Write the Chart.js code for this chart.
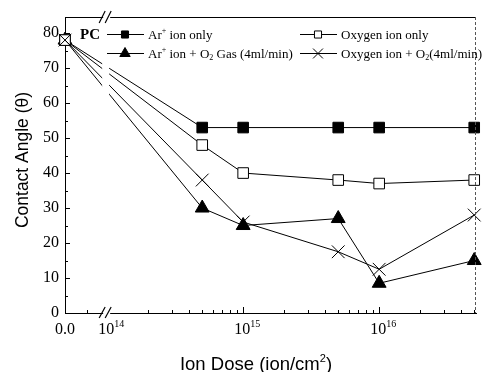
<!DOCTYPE html>
<html>
<head>
<meta charset="utf-8">
<script src="https://cdn.jsdelivr.net/npm/chart.js@4/dist/chart.umd.min.js"></script>
<style>
html,body{margin:0;padding:0;background:#fff;}
#wrap{width:486px;height:372px;position:relative;}
</style>
</head>
<body>
<div id="wrap"><canvas id="c" width="486" height="372"></canvas></div>
<script>
// ---- data ----
const doses = [0, 5e14, 1e15, 5e15, 1e16, 5e16];
const arOnly = [78, 53, 53, 53, 53, 53];
const oxOnly = [78, 48, 40, 38, 37, 38];
const arO2 = [78, 30, 25, 27, 8.5, 15];
const oxO2 = [78, 38, 26, 17.5, 12.5, 28];
const seriesNames = ['Ar⁺ ion only', 'Oxygen ion only', 'Ar⁺ ion + O₂ Gas (4ml/min)', 'Oxygen ion + O₂(4ml/min)'];
const xTickDoses = [0, 1e14, 1e15, 1e16];
const xTickLabels = ['0.0', '10¹⁴', '10¹⁵', '10¹⁶'];
const yTickValues = [0, 10, 20, 30, 40, 50, 60, 70, 80];
const xTitle = 'Ion Dose (ion/cm²)';
const yTitle = 'Contact Angle (θ)';
const sampleLabel = 'PC';

// broken axis: 0.0 then log decades starting at 1e14
const BREAK_OFF = 0.31;
const X_MAX = 3.022;
function T(d){ return d === 0 ? 0 : BREAK_OFF + Math.log10(d) - 14; }

const SERIF = "'Liberation Serif','Times New Roman',serif";
const SANS = "'Liberation Sans',Arial,sans-serif";

function pts(vals){ return doses.map((d,i)=>({x:T(d), y:vals[i]})); }

const SUP = {'⁺':'+','¹':'1','²':'2','⁴':'4','⁵':'5','⁶':'6'};
const SUB = {'₂':'2'};
function drawRich(ctx, str, x, y, size, family, weight, align){
  weight = weight || 'normal';
  const parts = [];
  for (const ch of str){
    let mode = 'n', c = ch;
    if (SUP[ch]) { mode='sup'; c=SUP[ch]; }
    else if (SUB[ch]) { mode='sub'; c=SUB[ch]; }
    const last = parts[parts.length-1];
    if (last && last.mode===mode) last.t += c; else parts.push({t:c, mode});
  }
  const small = Math.round(size*0.62);
  let total = 0;
  parts.forEach(p=>{
    ctx.font = weight+' '+(p.mode==='n'?size:small)+'px '+family;
    p.w = ctx.measureText(p.t).width; total += p.w;
  });
  let cx = align==='center' ? x - total/2 : x;
  ctx.textBaseline = 'alphabetic';
  ctx.textAlign = 'left';
  parts.forEach(p=>{
    ctx.font = weight+' '+(p.mode==='n'?size:small)+'px '+family;
    let dy = 0;
    if (p.mode==='sup') dy = -size*0.42;
    if (p.mode==='sub') dy = size*0.22;
    ctx.fillText(p.t, cx, y+dy);
    cx += p.w;
  });
}

const deco = {
  id:'deco',
  afterDatasetsDraw(chart){
    const ctx = chart.ctx;
    const xs = chart.scales.x;
    const bx = xs.getPixelForValue(T(1e14));
    ctx.save();
    ctx.fillStyle = '#fff';
    ctx.fillRect(bx-5, 58, 7, 45);
    ctx.restore();
  },
  afterDraw(chart){
    const ctx = chart.ctx;
    const xs = chart.scales.x, ys = chart.scales.y;
    const a = chart.chartArea;
    ctx.save();
    ctx.strokeStyle = '#000'; ctx.fillStyle = '#000'; ctx.lineWidth = 1;
    // y ticks (inward)
    for (let v=0; v<=80; v+=5){
      const py = Math.round(ys.getPixelForValue(v))+0.5;
      const len = v%10===0 ? 5 : 3;
      ctx.beginPath(); ctx.moveTo(a.left, py); ctx.lineTo(a.left+len, py); ctx.stroke();
    }
    // x ticks (inward)
    const xt = [{t:0.165, len:3}];
    for (let dec=14; dec<=16; dec++){
      for (let m=1; m<=9; m++){
        const d = m*Math.pow(10,dec);
        const t = T(d);
        if (t > X_MAX-0.005) continue;
        if (m===1 && dec===14) continue;
        xt.push({t, len: m===1 ? 6 : 3});
      }
    }
    xt.forEach(o=>{
      const px = Math.round(xs.getPixelForValue(o.t))+0.5;
      ctx.beginPath(); ctx.moveTo(px, a.bottom); ctx.lineTo(px, a.bottom-o.len); ctx.stroke();
    });
    // x tick labels
    ctx.fillStyle = '#000';
    xTickDoses.forEach((d,i)=>{
      const px = xs.getPixelForValue(T(d)) + (i===0?0:4);
      drawRich(ctx, xTickLabels[i], px, 334, 16, SERIF, 'normal', 'center');
    });
    // top border
    const bx = xs.getPixelForValue(T(1e14));
    ctx.beginPath();
    ctx.moveTo(a.left, a.top+0.5); ctx.lineTo(bx-4, a.top+0.5);
    ctx.moveTo(bx+3, a.top+0.5); ctx.lineTo(a.right, a.top+0.5);
    ctx.stroke();
    // right border (dotted)
    ctx.save();
    ctx.setLineDash([3,2]);
    ctx.strokeStyle = '#555';
    ctx.beginPath(); ctx.moveTo(a.right-0.5, a.top); ctx.lineTo(a.right-0.5, a.bottom); ctx.stroke();
    ctx.restore();
    // bottom break gap
    ctx.fillStyle = '#fff';
    ctx.fillRect(bx-4, a.bottom-2, 7, 4);
    ctx.fillStyle = '#000';
    // break slashes
    ctx.lineWidth = 1.2;
    [[-8,-1],[-2,5]].forEach(([x0])=>{
      ctx.beginPath(); ctx.moveTo(bx+x0, a.bottom+5); ctx.lineTo(bx+x0+6, a.bottom-6); ctx.stroke();
      ctx.beginPath(); ctx.moveTo(bx+x0, a.top+6); ctx.lineTo(bx+x0+6, a.top-6); ctx.stroke();
    });
    ctx.lineWidth = 1;
    // legend
    ctx.font = 'bold 15px '+SERIF;
    ctx.textBaseline = 'alphabetic'; ctx.textAlign = 'left';
    ctx.fillText(sampleLabel, 80, 39);
    const ds = chart.data.datasets;
    const slots = [[107,34],[300,34],[107,53],[300,53]];
    const legendR = [5, 5, 6, 7];
    ds.forEach((d,i)=>{
      const [lx, ly] = slots[i];
      ctx.strokeStyle = '#000'; ctx.lineWidth = 1;
      ctx.beginPath(); ctx.moveTo(lx, ly+0.5); ctx.lineTo(lx+37, ly+0.5); ctx.stroke();
      ctx.fillStyle = d.pointBackgroundColor;
      Chart.helpers.drawPoint(ctx, {pointStyle:d.pointStyle, radius:legendR[i], rotation:0, borderWidth:1}, lx+18, ly+0.5);
      ctx.fillStyle = '#000';
      drawRich(ctx, d.label, lx+41, ly+4.5, 13, SERIF, 'normal', 'left');
    });
    // axis titles
    ctx.fillStyle = '#000';
    drawRich(ctx, xTitle, 256, 370, 18.5, SANS, 'normal', 'center');
    ctx.save();
    ctx.translate(28, 160);
    ctx.rotate(-Math.PI/2);
    ctx.font = '17.5px '+SANS;
    ctx.textAlign = 'center';
    ctx.fillText(yTitle, 0, 0);
    ctx.restore();
    ctx.restore();
  }
};

const common = {borderColor:'#000', borderWidth:1, pointBorderColor:'#000', pointBorderWidth:1, tension:0, clip:false, showLine:true};

new Chart(document.getElementById('c'), {
  type:'scatter',
  data:{
    datasets:[
      Object.assign({label:seriesNames[0], data:pts(arOnly), order:3, pointStyle:'rect', pointRadius:7.5, pointBackgroundColor:'#000'}, common),
      Object.assign({label:seriesNames[1], data:pts(oxOnly), order:1, pointStyle:'rect', pointRadius:7.5, pointBackgroundColor:'#fff'}, common),
      Object.assign({label:seriesNames[2], data:pts(arO2), order:2, pointStyle:'triangle', pointRadius:8, pointBackgroundColor:'#000'}, common),
      Object.assign({label:seriesNames[3], data:pts(oxO2), order:0, pointStyle:'crossRot', pointRadius:9, pointBackgroundColor:'#000'}, common)
    ]
  },
  options:{
    responsive:false, animation:false,
    layout:{padding:{top:17, right:1, left:0, bottom:0}},
    plugins:{legend:{display:false}, tooltip:{enabled:false}},
    scales:{
      x:{
        type:'linear', min:0, max:X_MAX,
        grid:{display:false, drawTicks:false},
        border:{display:true, color:'#000', width:1},
        ticks:{display:false},
        afterFit(s){ s.height = 59; }
      },
      y:{
        min:0, max:84.6,
        grid:{display:false, drawTicks:false},
        border:{display:true, color:'#000', width:1},
        afterBuildTicks(s){ s.ticks = yTickValues.map(v=>({value:v})); },
        ticks:{color:'#000', padding:6, font:{family:SERIF, size:16}},
        afterFit(s){ s.width = 65; }
      }
    }
  },
  plugins:[deco]
});
</script>
</body>
</html>
